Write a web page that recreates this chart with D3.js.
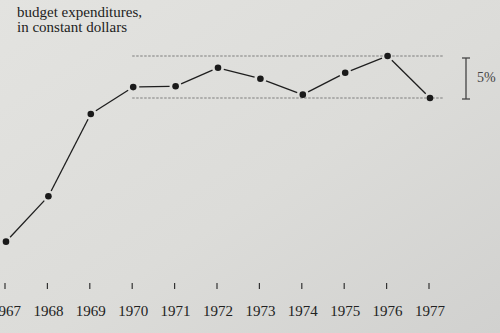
<!DOCTYPE html>
<html>
<head>
<meta charset="utf-8">
<script src="https://cdn.jsdelivr.net/npm/d3@7"></script>
<style>
  html, body { margin: 0; padding: 0; }
  body { width: 500px; height: 333px; overflow: hidden; }
</style>
</head>
<body>
<script>
const years = ['1967', '1968', '1969', '1970', '1971', '1972', '1973', '1974', '1975', '1976', '1977']
// index of expenditures, 1977 = 100
const values = [82.9, 88.3, 98.1, 101.3, 101.4, 103.6, 102.3, 100.4, 103.0, 105.0, 100.0]
const titleLines = ['budget expenditures,', 'in constant dollars']
const bandLow = 100
const bandHigh = 105
const bandLabel = '5%'

const width = 500
const height = 333
const serif = "'Liberation Serif', 'DejaVu Serif', serif"

const svg = d3.select('body').append('svg')
  .attr('width', width)
  .attr('height', height)
  .attr('font-family', serif)

const defs = svg.append('defs')
const grad = defs.append('linearGradient')
  .attr('id', 'paper')
  .attr('x1', 0).attr('y1', 0).attr('x2', 1).attr('y2', 1)
grad.append('stop').attr('offset', '0%').attr('stop-color', '#e3e3e0')
grad.append('stop').attr('offset', '55%').attr('stop-color', '#dcdcd9')
grad.append('stop').attr('offset', '100%').attr('stop-color', '#d1d1cf')

svg.append('rect')
  .attr('width', width)
  .attr('height', height)
  .attr('fill', 'url(#paper)')

const x = d3.scalePoint().domain(years).range([6, 430])
const y = d3.scaleLinear().domain([80, 107]).range([266, 39.2])

// title
svg.append('g').selectAll('text')
  .data(titleLines)
  .enter().append('text')
  .attr('x', 17)
  .attr('y', (d, i) => 17 + i * 15)
  .attr('font-family', serif)
  .attr('font-size', 15)
  .attr('fill', '#222')
  .text(d => d)

// dashed reference lines
const x0 = x('1970') - 1
const x1 = x('1977') + 14
svg.append('g').selectAll('line')
  .data([bandHigh, bandLow])
  .enter().append('line')
  .attr('x1', x0)
  .attr('x2', x1)
  .attr('y1', d => y(d))
  .attr('y2', d => y(d))
  .style('stroke', '#666')
  .style('stroke-width', 0.8)
  .style('stroke-dasharray', '2.5,1.5')

// 5% bracket
const bx = 466
const bracket = svg.append('g').style('stroke', '#444').style('stroke-width', 1.3)
bracket.append('line').attr('x1', bx).attr('x2', bx).attr('y1', y(bandHigh) + 2).attr('y2', y(bandLow) + 1)
bracket.append('line').attr('x1', bx - 4).attr('x2', bx + 4).attr('y1', y(bandHigh) + 2).attr('y2', y(bandHigh) + 2)
bracket.append('line').attr('x1', bx - 4).attr('x2', bx + 4).attr('y1', y(bandLow) + 1).attr('y2', y(bandLow) + 1)
svg.append('text')
  .attr('x', 477)
  .attr('y', y((bandHigh + bandLow) / 2) + 5)
  .attr('font-family', serif)
  .attr('font-size', 14)
  .attr('fill', '#444')
  .text(bandLabel)

// line segments with small gaps at each dot
const pts = years.map((yr, i) => [x(yr), y(values[i])])
const segs = d3.pairs(pts).map(([a, b]) => {
  const dx = b[0] - a[0], dy = b[1] - a[1]
  const len = Math.sqrt(dx * dx + dy * dy)
  const g = 6 / len
  return [a[0] + dx * g, a[1] + dy * g, b[0] - dx * g, b[1] - dy * g]
})
svg.append('g').selectAll('line')
  .data(segs)
  .enter().append('line')
  .attr('x1', d => d[0]).attr('y1', d => d[1])
  .attr('x2', d => d[2]).attr('y2', d => d[3])
  .style('stroke', '#1e1e1e')
  .style('stroke-width', 1.3)

svg.append('g').selectAll('circle')
  .data(pts)
  .enter().append('circle')
  .attr('cx', d => d[0])
  .attr('cy', d => d[1])
  .attr('r', 3.3)
  .style('fill', '#1a1a1a')

// x axis: short ticks and year labels
const axisY = 286
const ax = svg.append('g')
ax.selectAll('line')
  .data(years)
  .enter().append('line')
  .attr('x1', d => x(d) - 1).attr('x2', d => x(d) - 1)
  .attr('y1', axisY - 3).attr('y2', axisY + 3)
  .style('stroke', '#333')
  .style('stroke-width', 1.2)
ax.selectAll('text')
  .data(years)
  .enter().append('text')
  .attr('x', d => x(d))
  .attr('y', 316)
  .attr('text-anchor', 'middle')
  .attr('font-family', serif)
  .attr('font-size', 15)
  .attr('fill', '#222')
  .text(d => d)
</script>
</body>
</html>
